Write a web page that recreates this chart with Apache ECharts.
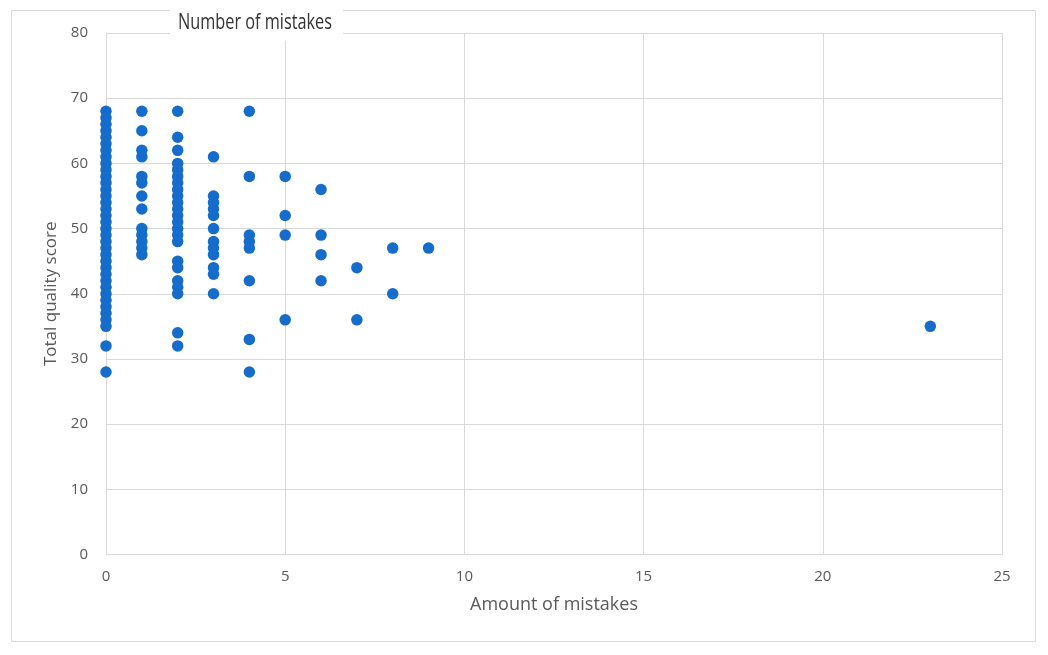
<!DOCTYPE html>
<html>
<head>
<meta charset="utf-8">
<script src="https://cdn.jsdelivr.net/npm/echarts@6/dist/echarts.min.js"></script>
<style>
html,body{margin:0;padding:0;background:#fff;}
#chart{width:1048px;height:655px;}
</style>
</head>
<body>
<div id="chart"></div>
<script>
// Total quality score values per amount of mistakes
const mistakes0 = [68,67,66,65,64,63,62,61,60,59,58,57,56,55,54,53,52,51,50,49,48,47,46,45,44,43,42,41,40,39,38,37,36,35,32,28];
const mistakes1 = [68,65,62,61,58,57,55,53,50,49,48,47,46];
const mistakes2 = [68,64,62,60,59,58,57,56,55,54,53,52,51,50,49,48,45,44,42,41,40,34,32];
const mistakes3 = [61,55,54,53,52,50,48,47,46,44,43,40];
const mistakes4 = [68,58,49,48,47,42,33,28];
const mistakes5 = [58,52,49,36];
const mistakes6 = [56,49,46,42];
const mistakes7 = [44,36];
const mistakes8 = [47,40];
const mistakes9 = [47];
const mistakes23 = [35];

const groups = [
  [0, mistakes0],[1, mistakes1],[2, mistakes2],[3, mistakes3],[4, mistakes4],
  [5, mistakes5],[6, mistakes6],[7, mistakes7],[8, mistakes8],[9, mistakes9],[23, mistakes23]
];
const points = [];
groups.forEach(([x, ys]) => ys.forEach(y => points.push([x, y])));

const xTicks = [0,5,10,15,20,25];
const yTicks = [0,10,20,30,40,50,60,70,80];

const chart = echarts.init(document.getElementById('chart'));
const labelFont = "'Open Sans', 'Noto Sans', sans-serif";
chart.setOption({
  animation: false,
  backgroundColor: '#fff',
  grid: {left: 106, right: 46, top: 33, bottom: 100.5},
  xAxis: {
    type: 'value', min: xTicks[0], max: xTicks[xTicks.length-1], interval: 5,
    name: 'Amount of mistakes', nameLocation: 'middle', nameGap: 41,
    nameTextStyle: {color: '#595959', fontSize: 18, fontFamily: labelFont},
    axisLine: {show: true, lineStyle: {color: '#d9d9d9', width: 1}},
    axisTick: {show: false},
    axisLabel: {color: '#595959', fontSize: 15, fontFamily: labelFont, margin: 15},
    splitLine: {show: true, lineStyle: {color: '#d9d9d9', width: 1}}
  },
  yAxis: {
    type: 'value', min: yTicks[0], max: yTicks[yTicks.length-1], interval: 10,
    name: 'Total quality score', nameLocation: 'middle', nameGap: 46,
    nameTextStyle: {color: '#595959', fontSize: 17, fontFamily: labelFont},
    axisLine: {show: true, lineStyle: {color: '#d9d9d9', width: 1}},
    axisTick: {show: false},
    axisLabel: {color: '#595959', fontSize: 15, fontFamily: labelFont, margin: 18},
    splitLine: {show: true, lineStyle: {color: '#d9d9d9', width: 1}}
  },
  graphic: [
    {type: 'rect', z: 100, shape: {x: 11.5, y: 10.5, width: 1024, height: 631},
     style: {fill: 'none', stroke: '#d9d9d9', lineWidth: 1}},
    {type: 'rect', z: 101, shape: {x: 170, y: 6, width: 173, height: 35},
     style: {fill: '#ffffff', stroke: 'none'}},
    {type: 'text', z: 102, x: 255, y: 23, scaleX: 0.74,
     style: {text: 'Number of mistakes', fill: '#333333', font: "22px 'Open Sans', sans-serif",
             textAlign: 'center', textVerticalAlign: 'middle', verticalAlign: 'middle', align: 'center'}}
  ],
  series: [{
    type: 'scatter',
    data: points,
    symbol: 'circle',
    symbolSize: 11.5,
    itemStyle: {color: '#156ccb', opacity: 1}
  }]
});
</script>
</body>
</html>
